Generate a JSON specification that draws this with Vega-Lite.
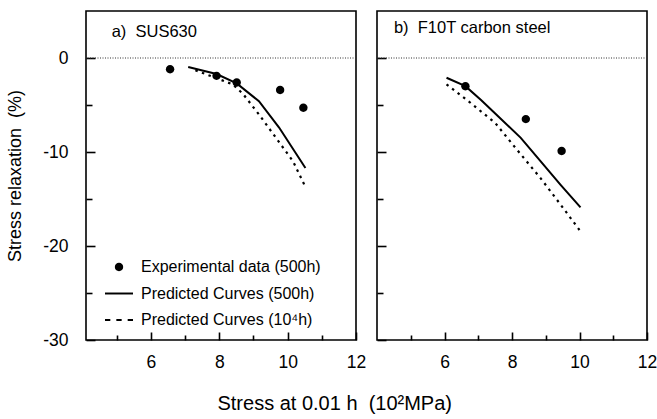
{
  "$schema": "https://vega.github.io/schema/vega-lite/v6.json",
  "background": "white",
  "padding": {"left": 5, "top": 10, "right": 0, "bottom": 5},
  "config": {
    "font": "Liberation Sans",
    "view": {"stroke": "black", "strokeWidth": 1.6},
    "axis": {
      "domain": false,
      "grid": false,
      "labelFont": "Liberation Sans",
      "labelFontSize": 17.5,
      "labelColor": "black",
      "tickColor": "black",
      "tickWidth": 1.6,
      "titleFont": "Liberation Sans",
      "titleFontSize": 18,
      "titleFontWeight": "normal",
      "titleColor": "black",
      "labelOverlap": false,
      "labelFlush": false
    }
  },
  "title": {
    "text": "Stress at 0.01 h\u00a0 (10²MPa)",
    "orient": "bottom",
    "anchor": "middle",
    "font": "Liberation Sans",
    "fontSize": 20,
    "fontWeight": "normal",
    "color": "black",
    "offset": 20,
    "dx": 3
  },
  "spacing": 8,
  "resolve": {"scale": {"shape": "independent"}, "legend": {"shape": "independent"}},
  "hconcat": [
    {
      "width": 270,
      "height": 329,
      "layer": [
        {
          "data": {"values": [{"label": "a)\u00a0 SUS630"}]},
          "mark": {"type": "rule", "color": "#333", "strokeWidth": 1, "strokeDash": [1, 1.5]},
          "encoding": {
            "y": {
              "datum": 0, "type": "quantitative",
              "scale": {"domain": [-30, 5], "nice": false, "zero": false},
              "axis": {
                "values": [-30, -25, -20, -15, -10, -5, 0],
                "labelExpr": "datum.value % 10 === 0 ? '' + datum.value : ''",
                "tickSize": {"condition": {"test": "datum.value % 10 === 0", "value": -9}, "value": -6},
                "labelPadding": 27,
                "title": "Stress relaxation\u00a0 (%)",
                "titlePadding": 18
              }
            }
          }
        },
        {
          "data": {
            "values": [
              {"s": "Predicted Curves (500h)", "x": 7.09, "y": -0.95},
              {"s": "Predicted Curves (500h)", "x": 7.92, "y": -1.7},
              {"s": "Predicted Curves (500h)", "x": 8.51, "y": -2.7},
              {"s": "Predicted Curves (500h)", "x": 9.16, "y": -4.6},
              {"s": "Predicted Curves (500h)", "x": 9.75, "y": -7.4},
              {"s": "Predicted Curves (500h)", "x": 10.52, "y": -11.7}
            ]
          },
          "mark": {"type": "line", "color": "black", "strokeWidth": 2},
          "encoding": {
            "x": {
              "field": "x", "type": "quantitative",
              "scale": {"domain": [4.1, 12], "nice": false, "zero": false},
              "axis": {
                "values": [5, 6, 7, 8, 9, 10, 11, 12],
                "labelExpr": "datum.value % 2 === 0 ? '' + datum.value : ''",
                "tickSize": {"condition": {"test": "datum.value % 2 === 0", "value": -8}, "value": -5},
                "labelPadding": 21,
                "title": null
              }
            },
            "y": {
              "field": "y", "type": "quantitative",
              "scale": {"domain": [-30, 5], "nice": false, "zero": false},
              "axis": {
                "values": [-30, -25, -20, -15, -10, -5, 0],
                "labelExpr": "datum.value % 10 === 0 ? '' + datum.value : ''",
                "tickSize": {"condition": {"test": "datum.value % 10 === 0", "value": -9}, "value": -6},
                "labelPadding": 27,
                "title": "Stress relaxation\u00a0 (%)",
                "titlePadding": 18
              }
            }
          }
        },
        {
          "data": {
            "values": [
              {"s": "Predicted Curves (10⁴h)", "x": 7.3, "y": -1.3},
              {"s": "Predicted Curves (10⁴h)", "x": 8.39, "y": -2.8},
              {"s": "Predicted Curves (10⁴h)", "x": 8.69, "y": -3.8},
              {"s": "Predicted Curves (10⁴h)", "x": 9.16, "y": -6.0},
              {"s": "Predicted Curves (10⁴h)", "x": 9.66, "y": -8.5},
              {"s": "Predicted Curves (10⁴h)", "x": 10.16, "y": -11.0},
              {"s": "Predicted Curves (10⁴h)", "x": 10.49, "y": -13.5}
            ]
          },
          "mark": {"type": "line", "color": "black", "strokeWidth": 2.2, "strokeDash": [2.5, 4.5]},
          "encoding": {
            "x": {
              "field": "x", "type": "quantitative",
              "scale": {"domain": [4.1, 12], "nice": false, "zero": false},
              "axis": {
                "values": [5, 6, 7, 8, 9, 10, 11, 12],
                "labelExpr": "datum.value % 2 === 0 ? '' + datum.value : ''",
                "tickSize": {"condition": {"test": "datum.value % 2 === 0", "value": -8}, "value": -5},
                "labelPadding": 21,
                "title": null
              }
            },
            "y": {
              "field": "y", "type": "quantitative",
              "scale": {"domain": [-30, 5], "nice": false, "zero": false},
              "axis": {
                "values": [-30, -25, -20, -15, -10, -5, 0],
                "labelExpr": "datum.value % 10 === 0 ? '' + datum.value : ''",
                "tickSize": {"condition": {"test": "datum.value % 10 === 0", "value": -9}, "value": -6},
                "labelPadding": 27,
                "title": "Stress relaxation\u00a0 (%)",
                "titlePadding": 18
              }
            }
          }
        },
        {
          "data": {
            "values": [
              {"s": "Experimental data (500h)", "x": 6.56, "y": -1.2},
              {"s": "Experimental data (500h)", "x": 7.92, "y": -1.9},
              {"s": "Experimental data (500h)", "x": 8.51, "y": -2.6},
              {"s": "Experimental data (500h)", "x": 9.78, "y": -3.4},
              {"s": "Experimental data (500h)", "x": 10.46, "y": -5.3}
            ]
          },
          "mark": {"type": "point", "filled": true, "color": "black", "size": 784, "opacity": 1},
          "encoding": {
            "x": {
              "field": "x", "type": "quantitative",
              "scale": {"domain": [4.1, 12], "nice": false, "zero": false},
              "axis": {
                "values": [5, 6, 7, 8, 9, 10, 11, 12],
                "labelExpr": "datum.value % 2 === 0 ? '' + datum.value : ''",
                "tickSize": {"condition": {"test": "datum.value % 2 === 0", "value": -8}, "value": -5},
                "labelPadding": 21,
                "title": null
              }
            },
            "y": {
              "field": "y", "type": "quantitative",
              "scale": {"domain": [-30, 5], "nice": false, "zero": false},
              "axis": {
                "values": [-30, -25, -20, -15, -10, -5, 0],
                "labelExpr": "datum.value % 10 === 0 ? '' + datum.value : ''",
                "tickSize": {"condition": {"test": "datum.value % 10 === 0", "value": -9}, "value": -6},
                "labelPadding": 27,
                "title": "Stress relaxation\u00a0 (%)",
                "titlePadding": 18
              }
            },
            "shape": {
              "field": "s", "type": "nominal",
              "scale": {
                "domain": ["Experimental data (500h)", "Predicted Curves (500h)", "Predicted Curves (10⁴h)"],
                "range": [
                  "M-0.3,0A0.3,0.3,0,1,0,0.3,0A0.3,0.3,0,1,0,-0.3,0Z",
                  "M-1,-0.07H1V0.07H-1Z",
                  "M-1,-0.07H-0.62V0.07H-1ZM-0.19,-0.07H0.19V0.07H-0.19ZM0.62,-0.07H1V0.07H0.62Z"
                ]
              },
              "legend": {
                "title": null,
                "orient": "none",
                "legendX": 19,
                "legendY": 242,
                "padding": 0,
                "symbolSize": 784,
                "symbolFillColor": "black",
                "symbolStrokeColor": "black",
                "symbolStrokeWidth": 0,
                "labelFont": "Liberation Sans",
                "labelFontSize": 16,
                "labelColor": "black",
                "labelOffset": 8,
                "labelLimit": 400,
                "rowPadding": 4.5,
                "encode": {
                  "symbols": {
                    "fill": {"value": "black"},
                    "opacity": {"value": 1}
                  }
                }
              }
            }
          }
        },
        {
          "data": {"values": [{"label": "a)\u00a0 SUS630"}]},
          "mark": {"type": "text", "align": "left", "baseline": "middle", "font": "Liberation Sans", "fontSize": 16.5, "color": "black"},
          "encoding": {
            "x": {
              "datum": 4.85, "type": "quantitative",
              "scale": {"domain": [4.1, 12], "nice": false, "zero": false},
              "axis": {
                "values": [5, 6, 7, 8, 9, 10, 11, 12],
                "labelExpr": "datum.value % 2 === 0 ? '' + datum.value : ''",
                "tickSize": {"condition": {"test": "datum.value % 2 === 0", "value": -8}, "value": -5},
                "labelPadding": 21,
                "title": null
              }
            },
            "y": {
              "datum": 2.8, "type": "quantitative",
              "scale": {"domain": [-30, 5], "nice": false, "zero": false},
              "axis": {
                "values": [-30, -25, -20, -15, -10, -5, 0],
                "labelExpr": "datum.value % 10 === 0 ? '' + datum.value : ''",
                "tickSize": {"condition": {"test": "datum.value % 10 === 0", "value": -9}, "value": -6},
                "labelPadding": 27,
                "title": "Stress relaxation\u00a0 (%)",
                "titlePadding": 18
              }
            },
            "text": {"field": "label", "type": "nominal"}
          }
        }
      ]
    },
    {
      "width": 270,
      "height": 329,
      "layer": [
        {
          "data": {"values": [{"label": "b)\u00a0 F10T carbon steel"}]},
          "mark": {"type": "rule", "color": "#333", "strokeWidth": 1, "strokeDash": [1, 1.5]},
          "encoding": {
            "y": {
              "datum": 0, "type": "quantitative",
              "scale": {"domain": [-30, 5], "nice": false, "zero": false},
              "axis": {
                "values": [-30, -25, -20, -15, -10, -5, 0],
                "labels": false,
                "tickSize": {"condition": {"test": "datum.value % 10 === 0", "value": -9}, "value": -6},
                "title": null
              }
            }
          }
        },
        {
          "data": {
            "values": [
              {"s": "Predicted Curves (500h)", "x": 6.06, "y": -2.1},
              {"s": "Predicted Curves (500h)", "x": 6.62, "y": -3.0},
              {"s": "Predicted Curves (500h)", "x": 7.09, "y": -4.5},
              {"s": "Predicted Curves (500h)", "x": 7.65, "y": -6.4},
              {"s": "Predicted Curves (500h)", "x": 8.26, "y": -8.5},
              {"s": "Predicted Curves (500h)", "x": 8.85, "y": -11.0},
              {"s": "Predicted Curves (500h)", "x": 9.44, "y": -13.5},
              {"s": "Predicted Curves (500h)", "x": 10.03, "y": -15.9}
            ]
          },
          "mark": {"type": "line", "color": "black", "strokeWidth": 2},
          "encoding": {
            "x": {
              "field": "x", "type": "quantitative",
              "scale": {"domain": [4, 12], "nice": false, "zero": false},
              "axis": {
                "values": [5, 6, 7, 8, 9, 10, 11, 12],
                "labelExpr": "datum.value % 2 === 0 ? '' + datum.value : ''",
                "tickSize": {"condition": {"test": "datum.value % 2 === 0", "value": -8}, "value": -5},
                "labelPadding": 21,
                "title": null
              }
            },
            "y": {
              "field": "y", "type": "quantitative",
              "scale": {"domain": [-30, 5], "nice": false, "zero": false},
              "axis": {
                "values": [-30, -25, -20, -15, -10, -5, 0],
                "labels": false,
                "tickSize": {"condition": {"test": "datum.value % 10 === 0", "value": -9}, "value": -6},
                "title": null
              }
            }
          }
        },
        {
          "data": {
            "values": [
              {"s": "Predicted Curves (10⁴h)", "x": 6.06, "y": -2.8},
              {"s": "Predicted Curves (10⁴h)", "x": 6.71, "y": -4.6},
              {"s": "Predicted Curves (10⁴h)", "x": 7.5, "y": -6.9},
              {"s": "Predicted Curves (10⁴h)", "x": 8.18, "y": -9.9},
              {"s": "Predicted Curves (10⁴h)", "x": 8.85, "y": -12.8},
              {"s": "Predicted Curves (10⁴h)", "x": 9.44, "y": -15.6},
              {"s": "Predicted Curves (10⁴h)", "x": 10.0, "y": -18.3}
            ]
          },
          "mark": {"type": "line", "color": "black", "strokeWidth": 2.2, "strokeDash": [2.5, 4.5]},
          "encoding": {
            "x": {
              "field": "x", "type": "quantitative",
              "scale": {"domain": [4, 12], "nice": false, "zero": false},
              "axis": {
                "values": [5, 6, 7, 8, 9, 10, 11, 12],
                "labelExpr": "datum.value % 2 === 0 ? '' + datum.value : ''",
                "tickSize": {"condition": {"test": "datum.value % 2 === 0", "value": -8}, "value": -5},
                "labelPadding": 21,
                "title": null
              }
            },
            "y": {
              "field": "y", "type": "quantitative",
              "scale": {"domain": [-30, 5], "nice": false, "zero": false},
              "axis": {
                "values": [-30, -25, -20, -15, -10, -5, 0],
                "labels": false,
                "tickSize": {"condition": {"test": "datum.value % 10 === 0", "value": -9}, "value": -6},
                "title": null
              }
            }
          }
        },
        {
          "data": {
            "values": [
              {"s": "Experimental data (500h)", "x": 6.62, "y": -3.0},
              {"s": "Experimental data (500h)", "x": 8.41, "y": -6.5},
              {"s": "Experimental data (500h)", "x": 9.47, "y": -9.9}
            ]
          },
          "mark": {"type": "point", "filled": true, "color": "black", "size": 784, "opacity": 1, "shape": "M-0.3,0A0.3,0.3,0,1,0,0.3,0A0.3,0.3,0,1,0,-0.3,0Z"},
          "encoding": {
            "x": {
              "field": "x", "type": "quantitative",
              "scale": {"domain": [4, 12], "nice": false, "zero": false},
              "axis": {
                "values": [5, 6, 7, 8, 9, 10, 11, 12],
                "labelExpr": "datum.value % 2 === 0 ? '' + datum.value : ''",
                "tickSize": {"condition": {"test": "datum.value % 2 === 0", "value": -8}, "value": -5},
                "labelPadding": 21,
                "title": null
              }
            },
            "y": {
              "field": "y", "type": "quantitative",
              "scale": {"domain": [-30, 5], "nice": false, "zero": false},
              "axis": {
                "values": [-30, -25, -20, -15, -10, -5, 0],
                "labels": false,
                "tickSize": {"condition": {"test": "datum.value % 10 === 0", "value": -9}, "value": -6},
                "title": null
              }
            }
          }
        },
        {
          "data": {"values": [{"label": "b)\u00a0 F10T carbon steel"}]},
          "mark": {"type": "text", "align": "left", "baseline": "middle", "font": "Liberation Sans", "fontSize": 16.5, "color": "black"},
          "encoding": {
            "x": {
              "datum": 4.5, "type": "quantitative",
              "scale": {"domain": [4, 12], "nice": false, "zero": false},
              "axis": {
                "values": [5, 6, 7, 8, 9, 10, 11, 12],
                "labelExpr": "datum.value % 2 === 0 ? '' + datum.value : ''",
                "tickSize": {"condition": {"test": "datum.value % 2 === 0", "value": -8}, "value": -5},
                "labelPadding": 21,
                "title": null
              }
            },
            "y": {
              "datum": 3.2, "type": "quantitative",
              "scale": {"domain": [-30, 5], "nice": false, "zero": false},
              "axis": {
                "values": [-30, -25, -20, -15, -10, -5, 0],
                "labels": false,
                "tickSize": {"condition": {"test": "datum.value % 10 === 0", "value": -9}, "value": -6},
                "title": null
              }
            },
            "text": {"field": "label", "type": "nominal"}
          }
        }
      ]
    }
  ]
}
